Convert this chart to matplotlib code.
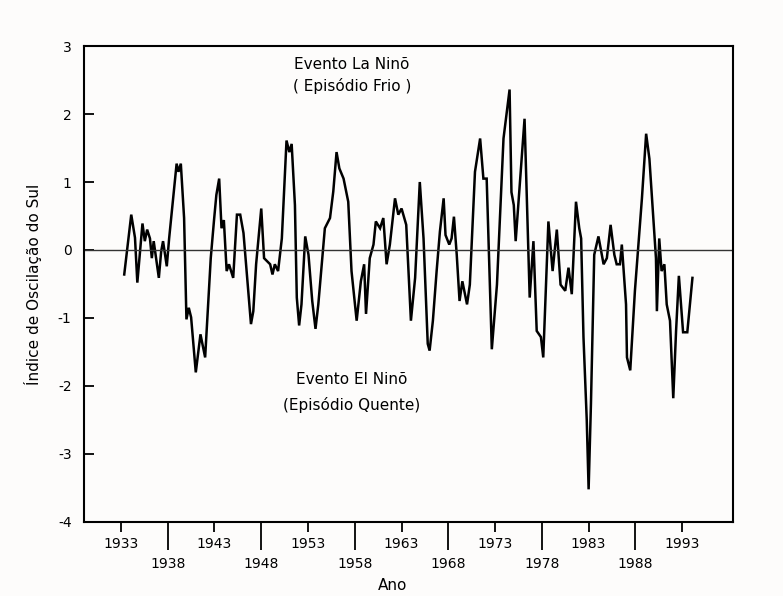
import numpy as np
import matplotlib
matplotlib.use("Agg")
import matplotlib.pyplot as plt

# Southern Oscillation Index
anos = [1933.35, 1934.1, 1934.5, 1934.75, 1935.3, 1935.55, 1935.8, 1936.1, 1936.3, 1936.5,
        1937.05, 1937.3, 1937.5, 1937.9, 1938.15, 1938.95, 1939.15, 1939.4, 1939.75, 1940.0,
        1940.25, 1940.5, 1941.0, 1941.5, 1942.0, 1942.6, 1942.95, 1943.2, 1943.5, 1943.75,
        1944.0, 1944.3, 1944.55, 1945.0, 1945.4, 1945.75, 1946.1, 1946.9, 1947.15, 1947.45,
        1947.7, 1948.0, 1948.3, 1948.95, 1949.2, 1949.45, 1949.8, 1950.2, 1950.7, 1951.0,
        1951.25, 1951.6, 1951.8, 1952.05, 1952.3, 1952.7, 1953.05, 1953.45, 1953.8, 1954.1,
        1954.8, 1955.35, 1955.7, 1956.05, 1956.35, 1956.8, 1957.3, 1957.65, 1958.2, 1958.65,
        1959.0, 1959.2, 1959.6, 1960.0, 1960.25, 1960.7, 1961.05, 1961.4, 1961.75, 1962.3,
        1962.65, 1963.0, 1963.5, 1964.0, 1964.45, 1964.95, 1965.35, 1965.8, 1966.0, 1966.35,
        1966.75, 1967.1, 1967.5, 1967.7, 1968.1, 1968.35, 1968.6, 1968.9, 1969.2, 1969.5,
        1970.0, 1970.3, 1970.85, 1971.4, 1971.75, 1972.1, 1972.65, 1973.2, 1973.9, 1974.55,
        1974.75, 1975.0, 1975.2, 1975.5, 1976.15, 1976.7, 1977.1, 1977.45, 1977.9, 1978.15,
        1978.7, 1979.15, 1979.6, 1980.0, 1980.5, 1980.85, 1981.2, 1981.65, 1982.0, 1982.2,
        1982.45, 1982.8, 1983.0, 1983.25, 1983.6, 1984.05, 1984.6, 1984.95, 1985.35, 1985.75,
        1986.0, 1986.35, 1986.55, 1987.0, 1987.1, 1987.45, 1987.95, 1988.7, 1989.15, 1989.5,
        1990.2, 1990.3, 1990.55, 1990.8, 1991.1, 1991.35, 1991.7, 1992.05, 1992.35, 1992.65,
        1992.85, 1993.1, 1993.55, 1994.1]
ios = [-0.36, 0.52, 0.18, -0.48, 0.39, 0.13, 0.30, 0.17, -0.12, 0.13,
       -0.41, -0.02, 0.13, -0.24, 0.17, 1.27, 1.15, 1.27, 0.47, -1.02,
       -0.85, -0.99, -1.80, -1.24, -1.58, -0.12, 0.44, 0.81, 1.05, 0.32,
       0.44, -0.31, -0.21, -0.41, 0.52, 0.52, 0.25, -1.09, -0.90, -0.21,
       0.17, 0.61, -0.12, -0.21, -0.36, -0.21, -0.31, 0.17, 1.61, 1.44,
       1.56, 0.66, -0.70, -1.11, -0.80, 0.20, -0.07, -0.75, -1.16, -0.80,
       0.32, 0.47, 0.86, 1.44, 1.20, 1.05, 0.71, -0.31, -1.04, -0.46,
       -0.21, -0.94, -0.12, 0.08, 0.42, 0.32, 0.47, -0.21, 0.08, 0.76,
       0.52, 0.61, 0.37, -1.04, -0.41, 1.00, 0.17, -1.38, -1.48, -1.04,
       -0.31, 0.27, 0.76, 0.22, 0.08, 0.17, 0.49, -0.07, -0.75, -0.46,
       -0.80, -0.51, 1.15, 1.64, 1.05, 1.05, -1.46, -0.51, 1.64, 2.36,
       0.85, 0.66, 0.13, 0.70, 1.93, -0.70, 0.13, -1.19, -1.28, -1.58,
       0.42, -0.31, 0.30, -0.51, -0.60, -0.26, -0.65, 0.71, 0.32, 0.17,
       -1.28, -2.50, -3.52, -2.26, -0.07, 0.20, -0.21, -0.12, 0.37, -0.07,
       -0.21, -0.21, 0.08, -0.80, -1.58, -1.77, -0.60, 0.76, 1.71, 1.34,
       -0.12, -0.90, 0.17, -0.31, -0.21, -0.80, -1.04, -2.18, -1.19, -0.38,
       -0.75, -1.21, -1.21, -0.41]

ticks_cima = [1933, 1943, 1953, 1963, 1973, 1983, 1993]
ticks_baixo = [1938, 1948, 1958, 1968, 1978, 1988]
yticks = [3, 2, 1, 0, -1, -2, -3, -4]

fig = plt.figure(figsize=(7.83, 5.96), dpi=100)
fig.patch.set_facecolor('#fdfcfb')
ax = fig.add_axes([0.1073, 0.1242, 0.829, 0.7986])
ax.set_facecolor('#fdfcfb')

ax.plot(anos, ios, color='black', lw=1.8, solid_joinstyle='miter')
ax.axhline(0, color='#333333', lw=1.0)

ax.set_xlim(1929.05, 1998.45)
ax.set_ylim(-4, 3)

for s in ax.spines.values():
    s.set_linewidth(1.5)

ax.set_yticks(yticks)
ax.set_yticklabels([str(v) for v in yticks])
ax.tick_params(axis='y', direction='in', length=7, width=1.3, pad=9, labelsize=10)

ax.set_xticks(ticks_cima)
ax.set_xticklabels([str(v) for v in ticks_cima])
ax.set_xticks(ticks_baixo, minor=True)
ax.set_xticklabels([str(v) for v in ticks_baixo], minor=True)
ax.tick_params(axis='x', which='major', direction='out', length=7, width=1.3, pad=4, labelsize=10)
ax.tick_params(axis='x', which='minor', direction='out', length=20, width=1.3, pad=5, labelsize=10)

ax.set_ylabel('Índice de Oscilação do Sul', fontsize=11)
ax.yaxis.set_label_coords(-0.0647, 0.5)
ax.set_xlabel('Ano', fontsize=11)
ax.xaxis.set_label_coords(0.4746, -0.1176)

ax.text(1957.7, 2.73, 'Evento La Ninõ', ha='center', va='center', fontsize=11)
ax.text(1957.7, 2.41, '( Episódio Frio )', ha='center', va='center', fontsize=11)
ax.text(1957.7, -1.91, 'Evento El Ninõ', ha='center', va='center', fontsize=11)
ax.text(1957.7, -2.28, '(Episódio Quente)', ha='center', va='center', fontsize=11)

fig.savefig('out.png', dpi=100, facecolor=fig.get_facecolor())
